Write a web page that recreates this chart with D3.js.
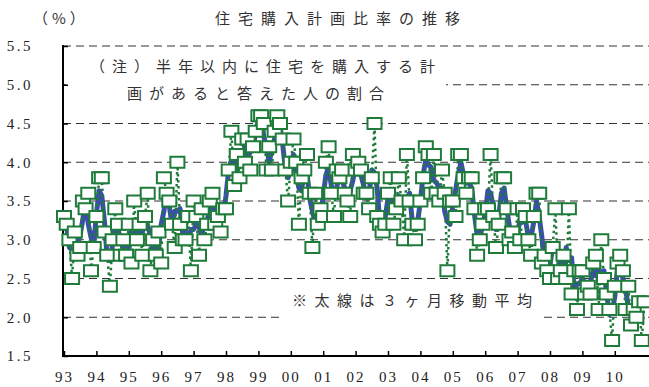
<!DOCTYPE html>
<html>
<head>
<meta charset="utf-8">
<script src="https://cdn.jsdelivr.net/npm/d3@7"></script>
<style>
	body { margin: 0; background: #fff; }
	.jp { font-family: "Noto Sans CJK JP", sans-serif; fill: #333; }
	.num { font-family: "Liberation Serif", serif; fill: #222; }
</style>
</head>
<body>
<svg id="chart" width="649" height="387"></svg>
<script>
const yearLabels = ['93', '94', '95', '96', '97', '98', '99', '00', '01', '02', '03', '04', '05', '06', '07', '08', '09', '10'];
const yTickValues = [1.5, 2.0, 2.5, 3.0, 3.5, 4.0, 4.5, 5.0, 5.5];
const gridValues = [2.0, 2.5, 3.0, 3.5, 4.0, 4.5, 5.0, 5.5];

// monthly ratio (%), Jan..Dec
const r1993 = [3.3, 3.2, 3.0, 2.5, 3.1, 2.8, 2.9, 3.5, 3.4, 3.6, 2.6, 2.9];
const r1994 = [3.3, 3.8, 3.8, 3.1, 2.8, 2.4, 3.0, 3.4, 3.2, 2.8, 3.0, 2.8];
const r1995 = [3.2, 2.7, 3.5, 3.0, 3.2, 2.8, 3.3, 3.6, 2.6, 3.0, 2.8, 3.1];
const r1996 = [2.7, 3.8, 3.6, 3.5, 3.2, 2.9, 4.0, 3.2, 3.0, 3.0, 3.3, 2.6];
const r1997 = [3.5, 3.3, 2.8, 3.4, 3.0, 3.2, 3.5, 3.6, 3.2, 3.3, 3.1, 3.4];
const r1998 = [3.4, 3.9, 4.4, 3.7, 4.1, 3.8, 4.3, 4.0, 4.3, 3.9, 4.2, 4.4];
const r1999 = [4.6, 4.6, 4.5, 3.9, 4.2, 3.9, 4.4, 4.6, 4.5, 4.3, 3.9, 3.5];
const r2000 = [4.0, 4.3, 4.0, 3.2, 3.8, 3.9, 4.1, 3.6, 2.9, 3.6, 3.2, 3.4];
const r2001 = [3.3, 4.0, 4.2, 3.6, 3.3, 3.9, 3.8, 3.9, 3.6, 3.5, 3.3, 4.1];
const r2002 = [3.9, 4.0, 3.9, 3.6, 3.6, 3.4, 3.8, 4.5, 3.3, 3.2, 3.1, 3.2];
const r2003 = [3.6, 3.8, 3.2, 3.4, 3.8, 3.5, 3.0, 4.1, 3.5, 3.2, 3.0, 3.2];
const r2004 = [3.5, 3.8, 4.2, 4.1, 3.6, 4.1, 3.6, 3.5, 3.9, 3.6, 2.6, 3.5];
const r2005 = [3.5, 3.3, 4.1, 4.1, 3.8, 3.6, 3.8, 3.8, 3.4, 2.8, 3.0, 3.2];
const r2006 = [3.4, 3.4, 4.1, 3.3, 2.9, 3.2, 3.8, 3.8, 3.4, 3.0, 3.1, 2.9];
const r2007 = [3.4, 3.0, 3.4, 3.3, 3.0, 2.8, 3.3, 3.6, 3.6, 2.7, 2.8, 2.6];
const r2008 = [2.5, 2.9, 3.4, 2.5, 2.6, 2.8, 2.5, 3.4, 2.3, 2.6, 2.1, 2.6];
const r2009 = [2.6, 2.3, 2.4, 2.3, 2.7, 2.8, 2.1, 3.0, 2.5, 2.3, 2.1, 1.7];
const r2010 = [2.4, 2.7, 2.8, 2.6, 2.1, 2.4, 1.9, 2.1, 2.0, 2.2, 1.7, 2.2];

const titleText = '住宅購入計画比率の推移';
const unitText = '（%）';
const noteLines = ['（注）半年以内に住宅を購入する計', '画があると答えた人の割合'];
const maNote = '※太線は３ヶ月移動平均';

const monthly = [r1993, r1994, r1995, r1996, r1997, r1998, r1999, r2000, r2001,
	r2002, r2003, r2004, r2005, r2006, r2007, r2008, r2009, r2010].flat()
	.map((v, i) => ({ t: 1993 + i / 12, v: v }));

// 3-month moving average (centred)
const movingAvg = monthly.slice(1, -1).map((d, i) => ({
	t: d.t,
	v: (monthly[i].v + monthly[i + 1].v + monthly[i + 2].v) / 3,
}));

const svg = d3.select('#chart');
svg.append('rect').attr('width', 649).attr('height', 387).attr('fill', '#fff');

const x = d3.scaleLinear().domain([1993, 2011]).range([64, 647.2]);
const y = d3.scaleLinear().domain([1.5, 5.5]).range([356, 46]);

// dashed grid
svg.append('g').selectAll('line').data(gridValues).enter().append('line')
	.attr('x1', 63).attr('x2', 649)
	.attr('y1', (d) => y(d)).attr('y2', (d) => y(d))
	.attr('stroke', '#333').attr('stroke-width', 1)
	.attr('stroke-dasharray', '8,5');

// white boxes behind the notes
svg.append('rect').attr('x', 66).attr('y', 52).attr('width', 380).attr('height', 58).attr('fill', '#fff');
svg.append('rect').attr('x', 283).attr('y', 288).attr('width', 260).attr('height', 36).attr('fill', '#fff');

// axes
const yAxis = d3.axisLeft(y).tickValues(yTickValues).tickSize(-5).tickPadding(30)
	.tickFormat(d3.format('.1f'));
const gy = svg.append('g').attr('transform', 'translate(63,0)').call(yAxis);
gy.select('.domain').remove();
gy.selectAll('line').attr('stroke', '#000').attr('stroke-width', 1.5);
gy.selectAll('text').attr('class', 'num').attr('font-size', 15).attr('letter-spacing', 2.5);

const xAxis = d3.axisBottom(x).tickValues(d3.range(1993, 2011)).tickSize(-5).tickPadding(15)
	.tickFormat((d, i) => yearLabels[i]);
const gx = svg.append('g').attr('transform', 'translate(0,356)').call(xAxis);
gx.select('.domain').remove();
gx.selectAll('line').attr('stroke', '#000').attr('stroke-width', 1.5);
gx.selectAll('text').attr('class', 'num').attr('font-size', 15).attr('letter-spacing', 2);

svg.append('line').attr('x1', 63).attr('x2', 63).attr('y1', 45).attr('y2', 357)
	.attr('stroke', '#000').attr('stroke-width', 2);
svg.append('line').attr('x1', 62).attr('x2', 649).attr('y1', 356).attr('y2', 356)
	.attr('stroke', '#000').attr('stroke-width', 2);

// series
const line = d3.line().x((d) => x(d.t)).y((d) => y(d.v));

svg.append('path').datum(movingAvg)
	.attr('d', line)
	.attr('fill', 'none')
	.attr('stroke', '#3a50a8')
	.attr('stroke-width', 5)
	.attr('stroke-linejoin', 'round');

svg.append('path').datum(monthly)
	.attr('d', line)
	.attr('fill', 'none')
	.attr('stroke', '#1e7b3a')
	.attr('stroke-width', 2.5)
	.attr('stroke-dasharray', '2.5,3.5');

svg.append('g').selectAll('rect').data(monthly).enter().append('rect')
	.attr('x', (d) => x(d.t) - 7)
	.attr('y', (d) => y(d.v) - 5.5)
	.attr('width', 14)
	.attr('height', 11)
	.attr('fill', '#fff')
	.attr('stroke', '#1e7b3a')
	.attr('stroke-width', 2);

// texts
svg.append('text').attr('class', 'jp').attr('x', 33).attr('y', 24)
	.attr('font-size', 15).attr('letter-spacing', 4).text(unitText);
svg.append('text').attr('class', 'jp').attr('x', 215).attr('y', 24)
	.attr('font-size', 15).attr('letter-spacing', 8).text(titleText);
svg.append('text').attr('class', 'jp').attr('x', 90).attr('y', 72)
	.attr('font-size', 15).attr('letter-spacing', 7).text(noteLines[0]);
svg.append('text').attr('class', 'jp').attr('x', 127).attr('y', 99)
	.attr('font-size', 15).attr('letter-spacing', 7).text(noteLines[1]);
svg.append('text').attr('class', 'jp').attr('x', 292).attr('y', 306)
	.attr('font-size', 15).attr('letter-spacing', 7.5).text(maNote);
</script>
</body>
</html>
